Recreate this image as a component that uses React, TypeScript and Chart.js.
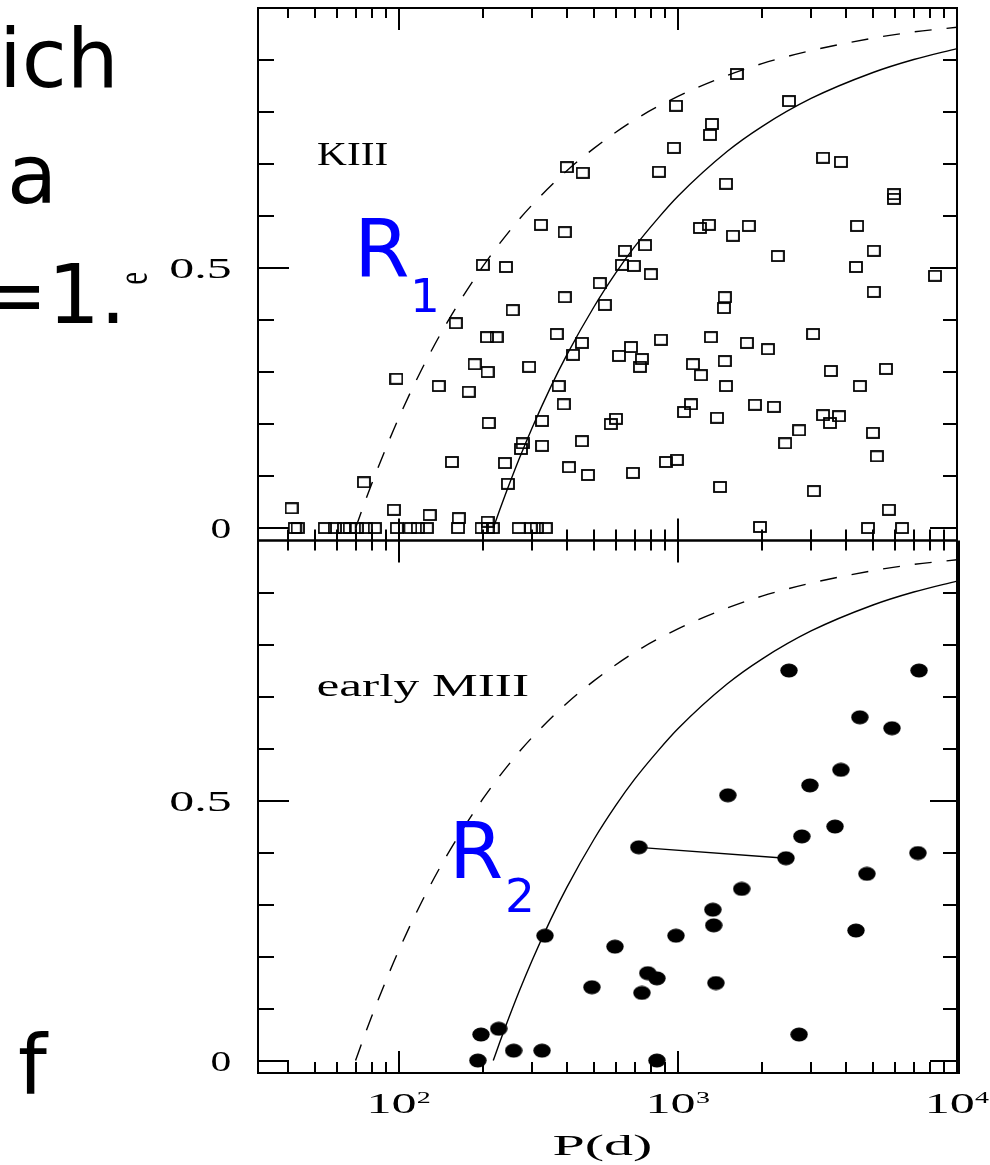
import React, { useEffect, useRef } from 'react';
import { Chart, registerables } from 'chart.js';

Chart.register(...registerables);

// ---------------- data ----------------
// KIII giants: [P (days), e]
const kiiiPoints: [number, number][] = [
  [1626, 0.873], [984, 0.812], [2500, 0.821], [1324, 0.777], [1303, 0.756],
  [967, 0.731], [855, 0.685], [1486, 0.662], [3311, 0.712], [3837, 0.704],
  [5943, 0.642], [5943, 0.633], [400, 0.694], [456, 0.683], [323, 0.583],
  [393, 0.569], [1199, 0.577], [1291, 0.583], [1574, 0.562], [1795, 0.581],
  [4385, 0.581], [2280, 0.523], [5033, 0.533], [200, 0.506], [242, 0.502],
  [630, 0.506], [695, 0.504], [762, 0.544], [646, 0.533], [800, 0.488],
  [4345, 0.502], [8337, 0.485], [5033, 0.454], [525, 0.471], [393, 0.444],
  [547, 0.429], [1472, 0.444], [1462, 0.423], [256, 0.419], [160, 0.394],
  [207, 0.367], [224, 0.367], [368, 0.373], [453, 0.356], [421, 0.333],
  [187, 0.315], [208, 0.3], [293, 0.31], [98, 0.287], [139, 0.273],
  [178, 0.262], [374, 0.273], [390, 0.238], [210, 0.202], [326, 0.206],
  [600, 0.21], [575, 0.2], [278, 0.163], [274, 0.152], [326, 0.158],
  [453, 0.167], [155, 0.127], [240, 0.125], [407, 0.117], [476, 0.102],
  [246, 0.085], [75, 0.088], [41.3, 0.038], [96, 0.035], [129, 0.025],
  [164, 0.019], [208, 0.012], [869, 0.362], [1313, 0.367], [1766, 0.356],
  [2101, 0.344], [3050, 0.373], [679, 0.348], [615, 0.331], [743, 0.325],
  [731, 0.31], [1132, 0.315], [1209, 0.294], [1472, 0.321], [1486, 0.273],
  [3532, 0.302], [4487, 0.273], [5563, 0.306], [1114, 0.238], [1052, 0.223],
  [1380, 0.212], [1888, 0.237], [2208, 0.233], [3311, 0.217], [3777, 0.215],
  [3506, 0.202], [2718, 0.188], [2421, 0.163], [4997, 0.183], [5163, 0.138],
  [991, 0.131], [906, 0.127], [690, 0.106], [1416, 0.079], [3070, 0.071],
  [5700, 0.035], [1968, 0.002], [4797, 0.0], [6353, 0.0],
  [42.4, 0], [43.4, 0], [54.3, 0], [59.0, 0], [63.6, 0], [66.7, 0], [70.7, 0],
  [76.2, 0], [82.0, 0], [98.4, 0], [110, 0], [117, 0], [126, 0], [163, 0],
  [198, 0], [208, 0], [217, 0], [269, 0], [297, 0], [312, 0], [336, 0],
];

// early MIII giants: [P (days), e]
const earlyMiiiPoints: [number, number][] = [
  [2500, 0.75], [7311, 0.75], [4487, 0.66], [5848, 0.639], [3837, 0.559],
  [2972, 0.529], [1510, 0.51], [3655, 0.45], [2780, 0.431], [724, 0.41],
  [2439, 0.389], [7244, 0.399], [4755, 0.359], [1693, 0.33], [1334, 0.29],
  [1344, 0.26], [984, 0.24], [595, 0.219], [780, 0.168], [841, 0.158],
  [743, 0.13], [1368, 0.149], [4345, 0.25], [2718, 0.05], [841, 0.0],
  [492, 0.141], [334, 0.24], [228, 0.061], [197, 0.05], [192, 0.0],
  [258, 0.019], [326, 0.019],
];

// two MIII points joined by a line
const linkedPair: [number, number][] = [[724, 0.41], [2439, 0.389]];

// dashed envelope
const dashedEnvelope: [number, number][] = [
  [70, 0], [75, 0.045], [80, 0.085], [90, 0.154], [100, 0.212], [120, 0.302],
  [150, 0.398], [200, 0.503], [250, 0.572], [300, 0.621], [400, 0.687],
  [500, 0.73], [700, 0.785], [1000, 0.83], [1500, 0.87], [2000, 0.893],
  [3000, 0.918], [5000, 0.942], [7000, 0.954], [10000, 0.963],
];

// solid envelope
const solidEnvelope: [number, number][] = [
  [218, 0], [230, 0.035], [240, 0.062], [270, 0.133], [300, 0.192],
  [350, 0.271], [400, 0.333], [500, 0.425], [600, 0.491], [700, 0.541],
  [850, 0.596], [1000, 0.638], [1500, 0.724], [2000, 0.772], [3000, 0.826],
  [5000, 0.876], [7000, 0.901], [10000, 0.922],
];

const xMajorTicks = [100, 1000, 10000];
const xMinorTicks = [40, 50, 60, 70, 80, 90, 200, 300, 400, 500, 600, 700, 800, 900,
  2000, 3000, 4000, 5000, 6000, 7000, 8000, 9000];
const xTickBase = ['10', '10', '10'];
const xTickExp = ['2', '3', '4'];
const yMajorTicks = [0, 0.5];
const yMinorTicks = [0.1, 0.2, 0.3, 0.4, 0.6, 0.7, 0.8, 0.9];
const yTickLabels = ['0', '0.5'];
const panelNames = ['KIII', 'early MIII'];
const xTitle = 'P(d)';
const yTitle = 'e';
const curveLetter = ['R', 'R'];
const curveSub = ['1', '2'];
const sideTexts = ['ich', 'a', '=1.', 'f'];

// axis ranges (each panel shows e from E_MIN to E_MAX)
const X_MIN = 31.3;
const X_MAX = 10000;
const E_MIN = -0.024;
const E_MAX = 1.0;
const E_SPAN = E_MAX - E_MIN;

// ---------------- helpers ----------------
const toXY = (arr: [number, number][]) => arr.map(([x, y]) => ({ x, y }));

function makeSquare(): HTMLCanvasElement {
  const c = document.createElement('canvas');
  c.width = 14;
  c.height = 12;
  const g = c.getContext('2d')!;
  g.strokeStyle = '#000';
  g.lineWidth = 1.8;
  g.strokeRect(1, 1, 12, 10);
  return c;
}

function makeDot(): HTMLCanvasElement {
  const c = document.createElement('canvas');
  c.width = 18;
  c.height = 15;
  const g = c.getContext('2d')!;
  g.fillStyle = '#000';
  g.beginPath();
  g.ellipse(9, 7.5, 8.7, 7, 0, 0, Math.PI * 2);
  g.fill();
  return c;
}

function fitInk(ctx: CanvasRenderingContext2D, text: string, font: string,
  left: number, right: number, baseline: number) {
  ctx.font = font;
  ctx.textAlign = 'left';
  ctx.textBaseline = 'alphabetic';
  const m = ctx.measureText(text);
  const w = m.actualBoundingBoxLeft + m.actualBoundingBoxRight;
  const s = w > 0 ? (right - left) / w : 1;
  ctx.save();
  ctx.translate(left + m.actualBoundingBoxLeft * s, baseline);
  ctx.scale(s, 1);
  ctx.fillText(text, 0, 0);
  ctx.restore();
}

function plain(ctx: CanvasRenderingContext2D, text: string, font: string,
  x: number, baseline: number, color: string) {
  ctx.font = font;
  ctx.fillStyle = color;
  ctx.textAlign = 'left';
  ctx.textBaseline = 'alphabetic';
  ctx.fillText(text, x, baseline);
}

const SERIF = '"Liberation Serif", "DejaVu Serif", serif';
const SANS = '"DejaVu Sans", sans-serif';

function panelBox(ys: any) {
  return { scale: ys, T: ys.getPixelForValue(E_MAX), B: ys.getPixelForValue(E_MIN) };
}

const framePlugin = {
  id: 'pgframe',
  beforeDatasetsDraw(chart: any) {
    const ctx: CanvasRenderingContext2D = chart.ctx;
    const xs = chart.scales.x;
    const panels = [panelBox(chart.scales.yTop), panelBox(chart.scales.yBot)];
    const L = xs.left;
    const R = xs.right;
    ctx.save();
    ctx.strokeStyle = '#000';
    ctx.lineWidth = 2;
    const seg = (x1: number, y1: number, x2: number, y2: number) => {
      ctx.beginPath();
      ctx.moveTo(x1, y1);
      ctx.lineTo(x2, y2);
      ctx.stroke();
    };
    panels.forEach(({ scale: ys, T, B }) => {
      ctx.strokeRect(L, T, R - L, B - T);
      xMinorTicks.forEach((v) => {
        const px = Math.round(xs.getPixelForValue(v));
        seg(px, T, px, T + 10);
        seg(px, B, px, B - 11);
      });
      xMajorTicks.forEach((v) => {
        const px = Math.round(xs.getPixelForValue(v));
        seg(px, T, px, T + 22);
        seg(px, B, px, B - 22);
      });
      yMinorTicks.forEach((v) => {
        const py = Math.round(ys.getPixelForValue(v));
        seg(L, py, L + 16, py);
        seg(R, py, R - 14, py);
      });
      yMajorTicks.forEach((v) => {
        const py = Math.round(ys.getPixelForValue(v));
        seg(L, py, L + 31, py);
        seg(R, py, R - 27, py);
      });
    });
    // heavier right edge on the lower panel
    ctx.lineWidth = 4;
    seg(R + 1, panels[1].T, R + 1, panels[1].B + 1);
    ctx.restore();
  },
  afterDraw(chart: any) {
    const ctx: CanvasRenderingContext2D = chart.ctx;
    const xs = chart.scales.x;
    const panels = [panelBox(chart.scales.yTop), panelBox(chart.scales.yBot)];
    const L = xs.left;
    ctx.save();
    ctx.fillStyle = '#000';

    // y tick labels
    panels.forEach(({ scale: ys }) => {
      yMajorTicks.forEach((v, k) => {
        const py = ys.getPixelForValue(v);
        const lab = yTickLabels[k];
        const w = lab.length > 1 ? 59 : 18;
        fitInk(ctx, lab, `30px ${SERIF}`, L - 28 - w, L - 28, py + 10);
      });
    });

    // x tick labels (10^n)
    const bottom = panels[1].B;
    xMajorTicks.forEach((v, k) => {
      const px = xs.getPixelForValue(v);
      fitInk(ctx, xTickBase[k], `30px ${SERIF}`, px - 29, px + 16, bottom + 40);
      fitInk(ctx, xTickExp[k], `16px ${SERIF}`, px + 18, px + 32, bottom + 30);
    });

    // axis titles
    const cx = (xs.left + xs.right) / 2;
    fitInk(ctx, xTitle, `30px ${SERIF}`, cx - 55, cx + 43, bottom + 82);
    ctx.save();
    ctx.translate(135, panels[0].scale.getPixelForValue(0.48));
    ctx.scale(1.55, 1);
    ctx.rotate(-Math.PI / 2);
    ctx.font = `29px ${SERIF}`;
    ctx.textAlign = 'center';
    ctx.textBaseline = 'middle';
    ctx.fillText(yTitle, 0, 0);
    ctx.restore();

    // panel names
    fitInk(ctx, panelNames[0], `33px ${SERIF}`, L + 59, L + 129, panels[0].T + 157);
    fitInk(ctx, panelNames[1], `32px ${SERIF}`, L + 60, L + 270, panels[1].T + 155);

    // curve labels in blue
    const blue = 'rgb(0,0,255)';
    plain(ctx, curveLetter[0], `80px ${SANS}`, 354, 277, blue);
    plain(ctx, curveSub[0], `47px ${SANS}`, 410, 312, blue);
    plain(ctx, curveLetter[1], `78px ${SANS}`, 449, 878, blue);
    plain(ctx, curveSub[1], `47px ${SANS}`, 505, 912, blue);

    // surrounding page text fragments
    plain(ctx, sideTexts[0], `82px ${SANS}`, -1, 87, '#000');
    plain(ctx, sideTexts[1], `82px ${SANS}`, 7, 203, '#000');
    plain(ctx, sideTexts[2], `82px ${SANS}`, -21, 323, '#000');
    plain(ctx, sideTexts[3], `82px ${SANS}`, 18, 1093, '#000');

    ctx.restore();
  },
};

export default function App() {
  const ref = useRef<HTMLCanvasElement | null>(null);

  useEffect(() => {
    if (!ref.current) return;
    const square = makeSquare();
    const dot = makeDot();
    const curve = (data: [number, number][], yAxisID: string, dashed: boolean) => ({
      data: toXY(data),
      xAxisID: 'x',
      yAxisID,
      showLine: true,
      pointRadius: 0,
      borderColor: '#000',
      borderWidth: 1.4,
      borderDash: dashed ? [17, 15] : [],
      cubicInterpolationMode: 'monotone' as const,
      fill: false,
    });
    const chart = new Chart(ref.current, {
      type: 'scatter',
      data: {
        datasets: [
          curve(dashedEnvelope, 'yTop', true),
          curve(solidEnvelope, 'yTop', false),
          curve(dashedEnvelope, 'yBot', true),
          curve(solidEnvelope, 'yBot', false),
          {
            data: toXY(linkedPair),
            xAxisID: 'x',
            yAxisID: 'yBot',
            showLine: true,
            pointRadius: 0,
            borderColor: '#000',
            borderWidth: 1.3,
          },
          {
            data: toXY(kiiiPoints),
            xAxisID: 'x',
            yAxisID: 'yTop',
            pointStyle: square,
            pointRadius: 6,
          },
          {
            data: toXY(earlyMiiiPoints),
            xAxisID: 'x',
            yAxisID: 'yBot',
            pointStyle: dot,
            pointRadius: 6,
          },
        ] as any,
      },
      options: {
        responsive: false,
        maintainAspectRatio: false,
        animation: false,
        devicePixelRatio: 1,
        layout: { padding: { left: 258, right: 33, top: 8, bottom: 92 } },
        plugins: { legend: { display: false }, tooltip: { enabled: false } },
        events: [],
        scales: {
          x: { type: 'logarithmic', min: X_MIN, max: X_MAX, display: false, position: 'bottom' },
          // top panel occupies the upper half of the plot area
          yTop: { type: 'linear', position: 'left', min: E_MIN - E_SPAN, max: E_MAX, display: false },
          // lower panel occupies the lower half
          yBot: { type: 'linear', position: 'left', min: E_MIN, max: E_MAX + E_SPAN, display: false },
        } as any,
      },
      plugins: [framePlugin],
    });
    return () => chart.destroy();
  }, []);

  return (
    <div style={{ position: 'absolute', left: 0, top: 0, width: 990, height: 1165, background: '#fff' }}>
      <canvas ref={ref} width={990} height={1165} style={{ display: 'block' }} />
    </div>
  );
}
